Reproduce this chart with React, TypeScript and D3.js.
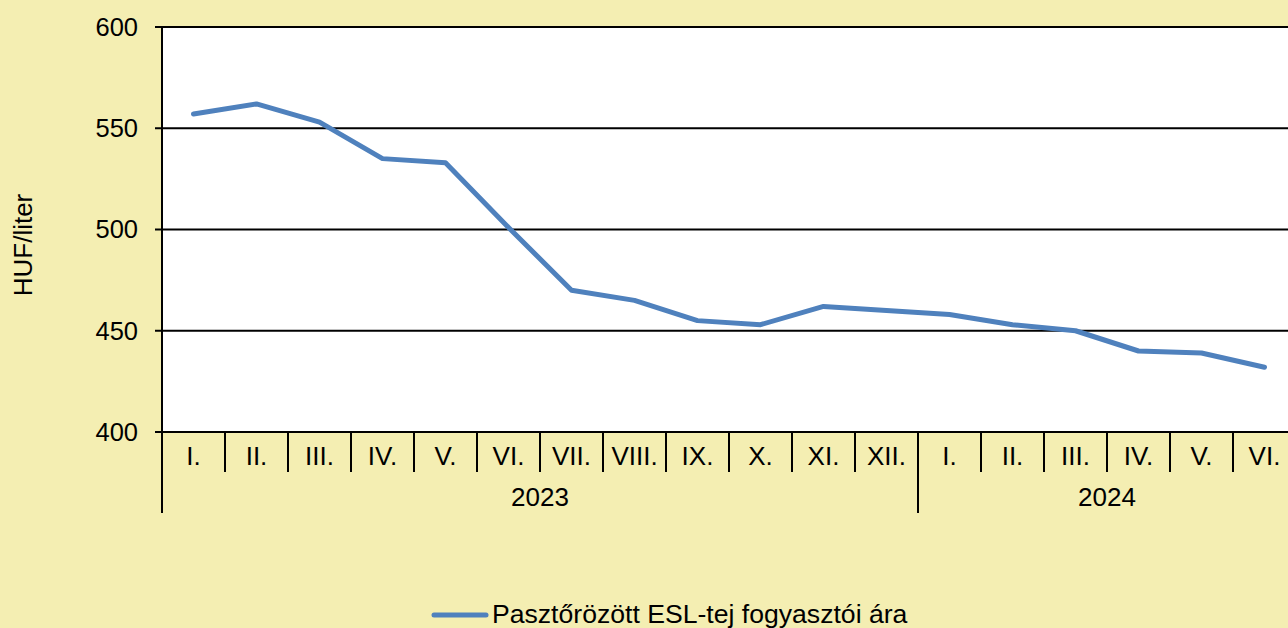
import React from "react";
import * as d3 from "d3";

const months2023 = ["I.", "II.", "III.", "IV.", "V.", "VI.", "VII.", "VIII.", "IX.", "X.", "XI.", "XII."];
const months2024 = ["I.", "II.", "III.", "IV.", "V.", "VI."];
const years = ["2023", "2024"];
const prices = [557, 562, 553, 535, 533, 501, 470, 465, 455, 453, 462, 460, 458, 453, 450, 440, 439, 432];
const yTicks = [400, 450, 500, 550, 600];
const seriesName = "Pasztőrözött ESL-tej fogyasztói ára";
const yAxisTitle = "HUF/liter";

export default function App() {
  const W = 1288, H = 628;
  const left = 162, top = 27, bottom = 432;
  const step = 63;
  const labels = [...months2023, ...months2024];
  const idx = labels.map((_, i) => i);
  const x = d3.scaleBand<number>().domain(idx).range([left, left + step * labels.length]).padding(0);
  const y = d3.scaleLinear().domain([400, 600]).range([bottom, top]);
  const line = d3.line<number>().x((_, i) => (x(i) as number) + x.bandwidth() / 2).y((d) => y(d));
  const font = "'Liberation Sans', Arial, sans-serif";
  const plotRight = left + step * labels.length;
  const yearGroups = [
    { name: years[0], start: 0, n: months2023.length },
    { name: years[1], start: months2023.length, n: months2024.length },
  ];
  return (
    <svg width={W} height={H} style={{ position: "absolute", left: 0, top: 0 }} fontFamily={font}>
      <rect x={0} y={0} width={W} height={H} fill="#f4eeb2" />
      <rect x={left} y={top} width={plotRight - left} height={bottom - top} fill="#ffffff" />
      {yTicks.map((t) => (
        <g key={t}>
          <line x1={left - 7} x2={plotRight} y1={y(t)} y2={y(t)} stroke="#000" strokeWidth={2} />
          <text x={138} y={y(t)} dy="0.35em" textAnchor="end" fontSize={25.5} fill="#000">{t}</text>
        </g>
      ))}
      <line x1={left} x2={left} y1={top} y2={513} stroke="#000" strokeWidth={2} />
      {idx.map((i) => (
        <g key={i}>
          {i > 0 && i !== months2023.length && (
            <line x1={x(i)} x2={x(i)} y1={bottom} y2={472} stroke="#000" strokeWidth={2} />
          )}
          <text x={(x(i) as number) + x.bandwidth() / 2} y={465} textAnchor="middle" fontSize={26} fill="#000">{labels[i]}</text>
        </g>
      ))}
      <line x1={x(months2023.length)} x2={x(months2023.length)} y1={bottom} y2={513} stroke="#000" strokeWidth={2} />
      {yearGroups.map((g) => (
        <text key={g.name} x={(x(g.start) as number) + (step * g.n) / 2} y={506} textAnchor="middle" fontSize={26} fill="#000">{g.name}</text>
      ))}
      <path d={line(prices) || ""} fill="none" stroke="#4f81bd" strokeWidth={5} strokeLinejoin="round" strokeLinecap="round" />
      <text transform="translate(32,245) rotate(-90)" textAnchor="middle" fontSize={26} fill="#000">{yAxisTitle}</text>
      <line x1={434} x2={486} y1={615} y2={615} stroke="#4f81bd" strokeWidth={5} strokeLinecap="round" />
      <text x={492} y={623} fontSize={26.6} fill="#000">{seriesName}</text>
    </svg>
  );
}
